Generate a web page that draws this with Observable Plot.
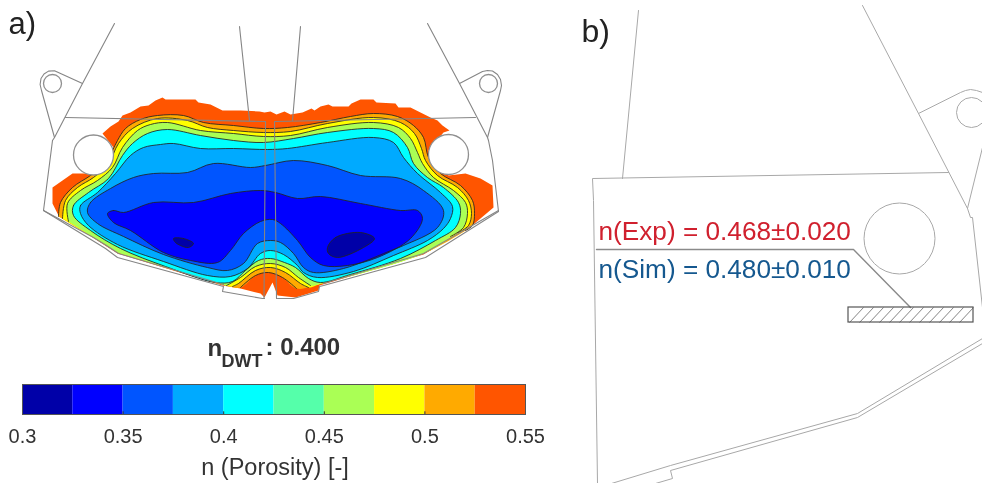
<!DOCTYPE html>
<html><head><meta charset="utf-8">
<script src="https://cdn.jsdelivr.net/npm/d3@7"></script>
<script src="https://cdn.jsdelivr.net/npm/@observablehq/plot@0.6"></script>
<style>html,body{margin:0;background:#fff}#c{position:relative;width:982px;height:483px;overflow:hidden}svg{position:absolute;left:0;background:transparent;font-family:"Liberation Sans",Arial,sans-serif;filter:blur(0.3px)}</style>
</head><body><div id="c"></div>
<script>
// porosity classes
const levels=[0.3,0.325,0.35,0.375,0.4,0.425,0.45,0.475,0.5,0.525,0.55];
const levelColors=["#0000A8","#0000FF","#0055FF","#00AAFF","#00FFFF","#55FFAA","#AAFF55","#FFFF00","#FFAA00","#FF5500"];
const tickValues=[0.3,0.35,0.4,0.45,0.5,0.55];

// simulated porosity region outlines (image-plane coordinates of the cross-section)
const regionOuter=[[102,133],[110,126],[118,121],[122,115],[130,112],[140,106],[148,105],[155,100],[162,97],[165,99],[195,99],[198,102],[210,104],[216,107],[222,110],[240,110],[259,111],[264,112],[270,111],[276,114],[284,111],[290,114],[302,112],[311,108],[314,110],[320,106],[328,104],[332,106],[348,106],[351,103],[360,99],[373,99],[376,102],[395,103],[398,107],[410,107],[420,112],[430,117],[437,120],[442,125],[449,130],[443,132],[428,150],[448,175],[465,173],[480,178],[492,185],[493,207],[467,229],[457,234],[423,254],[319,285],[318,290],[295,297],[277,295],[272,282],[264,297],[260,293],[240,288],[222,285],[117,253],[58,215],[52,203],[52,187],[62,180],[72,173],[85,173],[93,175],[113,147]];
const c1Main=[[58,216],[60,202],[72,187],[90,175],[105,163],[112,150],[117,140],[125,128],[140,119],[157,115],[183,115],[203,122],[233,125],[263,128],[287,127],[320,122],[350,116],[373,113],[397,116],[413,125],[423,137],[428,157],[440,173],[460,185],[472,200],[474,213],[472,225],[465,230]];
const c1Arch=[[296,288],[282,277],[268,272],[255,275],[240,287]];
const c2Main=[[62,218],[65,200],[77,187],[93,177],[108,163],[118,143],[132,128],[157,118],[187,120],[207,127],[233,130],[263,132],[290,131],[327,123],[373,117],[400,122],[414,133],[421,148],[425,160],[437,175],[457,187],[468,200],[471,213],[468,225],[458,232]];
const c2Arch=[[308,287],[300,283],[285,272],[270,267],[255,270],[238,283],[232,286]];
const c3Main=[[68,221],[67,203],[80,190],[97,180],[112,167],[122,147],[137,130],[150,124],[167,122],[200,130],[233,133],[263,136],[290,135],[327,127],[373,122],[398,127],[410,138],[417,152],[422,163],[433,177],[453,190],[465,202],[467,213],[463,227],[450,236]];
const c3Arch=[[310,285],[298,277],[285,267],[270,263],[255,266],[240,277],[226,285]];
const c4=[[73,215],[73,205],[88,192],[108,178],[122,155],[132,143],[147,133],[167,129],[200,135],[233,140],[263,142],[293,138],[327,132],[373,128],[393,132],[407,147],[413,163],[427,177],[443,187],[458,202],[460,213],[455,227],[435,240],[400,258],[350,274],[320,282],[308,278],[295,267],[284,262],[270,258],[258,260],[245,270],[232,281],[215,282],[165,266],[120,248],[90,230]];
const c5=[[80,213],[80,205],[97,192],[115,173],[130,155],[143,147],[160,144],[173,143],[200,148],[233,148],[267,149],[287,148],[327,142],[373,137],[393,142],[403,157],[417,173],[440,192],[452,206],[450,218],[443,228],[427,240],[393,255],[353,271],[317,277],[303,272],[297,265],[283,254],[270,250],[260,253],[247,268],[230,276],[207,275],[163,261],[117,244],[88,225]];
const c6=[[87,212],[90,202],[110,188],[133,177],[153,173],[187,172],[213,163],[250,167],[265,165],[293,160],[327,165],[360,175],[400,178],[423,190],[443,210],[437,227],[403,245],[393,249],[343,268],[313,272],[303,267],[293,253],[280,242],[270,240],[257,243],[243,263],[227,270],[207,267],[163,254],[123,236],[97,223]];
const c7=[[107,213],[113,210],[123,212],[153,202],[193,202],[230,193],[260,190],[275,192],[297,198],[320,196],[360,203],[400,210],[417,210],[422,218],[410,238],[377,257],[347,265],[323,265],[310,257],[297,240],[280,223],[272,219],[260,221],[243,233],[230,250],[217,262],[190,260],[163,252],[130,230],[113,222]];
const c8Right=[[327,247],[335,237],[360,232],[374,238],[363,247],[337,257],[328,253]];
const c8Left=[[173,238],[183,238],[193,243],[188,247],[180,245],[175,242]];
const edgeRight=[[423,253],[321,283]];
const edgeLeft=[[222,284],[117,252]];

// component outlines
const linesA=[
 [[114,23],[82,83],[54,137],[52,140],[43,210],[105,248],[117,257],[223,286],[222,291],[262,298],[264,298]],
 [[43,210],[93,237],[106,245],[118,253],[223,284]],
 [[82,83],[54,70.2],[48,70.6],[43.5,73.5],[40.5,78],[39.6,84],[41,90],[54,137]],
 [[239,26],[249,120]],[[300,26],[292,120]],
 [[65,117],[265,121],[263.5,298]],[[475,117],[274,121],[276,298]],
 [[427,23],[459,83],[487,137],[488,140],[492,160],[498,211],[425,257],[323,285],[319,286],[318,291],[293,298],[277,298]],
 [[498,210],[423,253],[323,283]],
 [[459,83],[482,71],[487,70],[492,70.5],[497,74],[500,79],[501,85],[500,90],[487,137]]
];
const holesA=[[93,154.5,20],[448,154,20],[52,83,9],[488,83,9]];
const linesB=[
 [[638,10],[622,178]],
 [[948,172],[592,178],[593,200],[597,483]],
 [[862,5],[918,113],[967,208],[970,217],[972,217],[982,307]],
 [[918,113],[960,92],[965,90],[970,89],[976,90],[982,92]],
 [[982,147],[967,208]],
 [[982,338],[857,413],[670,465],[611,483]],
 [[982,343],[857,417],[670,470],[672,478],[655,483]]
];
const holesB=[[899,238,35.5],[971,112,15]];
const leader=[[596,249],[853,249],[910,307]];
const plate=[848,973,307,322];
const hatchStarts=[849,859,869,879,889,899,909,919,929,939,949,959];
const textLabels=[
 ["a)",8,33,31,"#222","normal"],["b)",581,41,32,"#222","normal"],
 ["n",207,355,24,"#333","bold"],["DWT",221,366,18,"#333","bold"],[": 0.400",265,354,24,"#333","bold"],
 ["n(Exp) = 0.468±0.020",598,239,26.2,"#d0202e","normal"],["n(Sim) = 0.480±0.010",598,277,26.2,"#15588f","normal"]
];

const poly=(pts,fill,curve="catmull-rom")=>Plot.line(pts,{x:d=>d[0],y:d=>d[1],fill,stroke:"none",curve});
const contour=(pts,curve="catmull-rom")=>Plot.line(pts,{x:d=>d[0],y:d=>d[1],stroke:"#222",strokeWidth:0.85,curve});
const closed="catmull-rom-closed";
const outline=(pts,stroke,w)=>Plot.line(pts,{x:d=>d[0],y:d=>d[1],stroke,strokeWidth:w,curve:"linear"});
const col=levelColors;

const main=Plot.plot({
 width:982,height:483,margin:0,
 style:{top:"0px"},
 x:{domain:[0,982],range:[0,982],axis:null},
 y:{domain:[0,483],range:[0,483],axis:null},
 r:{type:"identity"},
 marks:[
  poly(regionOuter,col[9],"linear"),
  poly([...c1Main,...edgeRight,...c1Arch,...edgeLeft],col[8]),
  poly([...c2Main,...edgeRight,...c2Arch,...edgeLeft],col[7]),
  poly([...c3Main,...edgeRight,...c3Arch,...edgeLeft],col[6]),
  poly(c4,col[4],closed),poly(c5,col[3],closed),poly(c6,col[2],closed),poly(c7,col[1],closed),
  poly(c8Right,col[0],closed),poly(c8Left,col[0],closed),
  contour(c1Main),contour(c1Arch),contour(c2Main),contour(c2Arch),contour(c3Main),contour(c3Arch),
  contour(c4,closed),contour(c5,closed),contour(c6,closed),contour(c7,closed),contour(c8Right,closed),contour(c8Left,closed),
  ...linesA.map(l=>outline(l,"#858585",1.1)),
  Plot.dot(holesA,{x:d=>d[0],y:d=>d[1],r:d=>d[2],fill:"white",stroke:"#8f8f8f",strokeWidth:1.3}),
  ...linesB.map(l=>outline(l,"#a8a8a8",1)),
  Plot.dot(holesB,{x:d=>d[0],y:d=>d[1],r:d=>d[2],fill:"none",stroke:"#a8a8a8",strokeWidth:1}),
  outline(leader,"#8a8a8a",1.4),
  Plot.link(hatchStarts,{x1:d=>d,y1:plate[3],x2:d=>Math.min(d+14,plate[1]),y2:plate[2],stroke:"#666",strokeWidth:0.8}),
  Plot.rect([plate],{x1:d=>d[0],x2:d=>d[1],y1:d=>d[2],y2:d=>d[3],fill:"none",stroke:"#555",strokeWidth:1.2}),
  ...textLabels.map(t=>Plot.text([t],{x:d=>d[1],y:d=>d[2],text:d=>d[0],fontSize:t[3],fill:t[4],fontWeight:t[5],textAnchor:"start",lineAnchor:"bottom"}))
 ]
});

const bar=Plot.plot({
 width:982,height:113,marginLeft:22,marginRight:457,marginTop:14,marginBottom:69,
 style:{top:"370px",fontSize:"20px"},
 x:{domain:[0.3,0.55]},
 y:{axis:null,domain:[0,1]},
 marks:[
  Plot.rectY(levelColors,{x1:(d,i)=>levels[i],x2:(d,i)=>levels[i+1],y1:0,y2:1,fill:d=>d}),
  Plot.ruleX(tickValues.slice(1,5),{y1:0,y2:0.09,stroke:"#333",strokeWidth:1}),
  Plot.frame({stroke:"#555",strokeWidth:1}),
  Plot.axisX({ticks:tickValues,tickFormat:d=>String(+d.toFixed(2)),tickSize:0,tickPadding:14,fontSize:20,fill:"#333",labelArrow:"none",label:null}),
  Plot.text(["n (Porosity) [-]"],{x:0.4255,y:-2,text:d=>d,fontSize:23.5,fill:"#333",lineAnchor:"bottom"})
 ]
});
document.getElementById("c").append(main,bar);
</script></body></html>
